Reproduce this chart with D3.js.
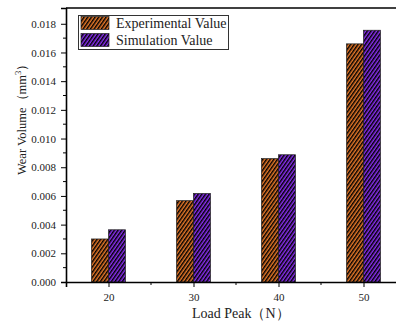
<!DOCTYPE html>
<html>
<head>
<meta charset="utf-8">
<script src="https://cdn.jsdelivr.net/npm/d3@7"></script>
<style>
  body { margin: 0; background: #fff; }
  svg { display: block; font-family: "Liberation Serif", "Times New Roman", serif; }
</style>
</head>
<body>
<div id="chart"></div>
<script>
// data
const loads = [20, 30, 40, 50];
const experimental = [0.0030, 0.00567, 0.0086, 0.0166];
const simulation = [0.00364, 0.00617, 0.00887, 0.01755];
const seriesNames = ["Experimental Value", "Simulation Value"];
const xTicks = [20, 30, 40, 50];
const yTicks = [0, 0.002, 0.004, 0.006, 0.008, 0.010, 0.012, 0.014, 0.016, 0.018];

const width = 396, height = 325;
const colors = ["#e8792a", "#8a2ff0"];

const svg = d3.select("#chart").append("svg")
    .attr("width", width)
    .attr("height", height);

// hatch patterns
const defs = svg.append("defs");
colors.forEach((c, i) => {
    const p = defs.append("pattern")
        .attr("id", "hatch" + i)
        .attr("patternUnits", "userSpaceOnUse")
        .attr("width", 3)
        .attr("height", 10)
        .attr("patternTransform", "rotate(35)");
    p.append("rect").attr("width", 3).attr("height", 10).attr("fill", c);
    p.append("line")
        .attr("x1", 0.75).attr("x2", 0.75)
        .attr("y1", 0).attr("y2", 10)
        .attr("stroke", "#000")
        .attr("stroke-width", 1.5);
});

// scales, right end runs past the window like the source
const x = d3.scaleLinear().domain([15, 55]).range([66, 406]);
const y = d3.scaleLinear().domain([0, 0.0191]).range([282, 8]);

const barW = 2; // in load units

// bars
const g = svg.append("g");
loads.forEach((load, i) => {
    [experimental[i], simulation[i]].forEach((v, s) => {
        const x0 = s === 0 ? load - barW : load;
        g.append("rect")
            .attr("x", x(x0))
            .attr("y", y(v))
            .attr("width", x(x0 + barW) - x(x0))
            .attr("height", y(0) - y(v))
            .attr("fill", "url(#hatch" + s + ")")
            .attr("stroke", "#222")
            .attr("stroke-width", 0.7);
    });
});

// y axis
const yAxis = svg.append("g")
    .attr("transform", "translate(66,0)")
    .call(d3.axisLeft(y).tickValues(yTicks).tickFormat(d3.format(".3f")).tickSize(5).tickPadding(5));
yAxis.append("g").selectAll("line")
    .data(d3.range(0.001, 0.019, 0.002))
    .enter().append("line")
    .attr("x1", -3).attr("x2", 0)
    .attr("y1", d => y(d)).attr("y2", d => y(d))
    .attr("stroke", "#000");

// x axis
const xAxis = svg.append("g")
    .attr("transform", "translate(0,282)")
    .call(d3.axisBottom(x).tickValues(xTicks).tickSize(5).tickPadding(6));
xAxis.append("g").selectAll("line")
    .data([25, 35, 45])
    .enter().append("line")
    .attr("x1", d => x(d)).attr("x2", d => x(d))
    .attr("y1", 0).attr("y2", 3)
    .attr("stroke", "#000");

[yAxis, xAxis].forEach(a => {
    a.select(".domain").attr("stroke-width", 1.6);
    a.selectAll(".tick line").attr("stroke-width", 1);
    a.selectAll("text")
        .attr("font-family", "Liberation Serif, Times New Roman, serif")
        .attr("font-size", 11)
        .attr("fill", "#222");
});

// top frame line
svg.append("line")
    .attr("x1", x(15)).attr("x2", x(55))
    .attr("y1", y(0.0191)).attr("y2", y(0.0191))
    .attr("stroke", "#000").attr("stroke-width", 1.6);

// axis titles
svg.append("text")
    .attr("x", 192).attr("y", 318)
    .attr("font-size", 14)
    .attr("fill", "#222")
    .text("Load Peak（N）");

svg.append("text")
    .attr("transform", "translate(26,175) rotate(-90)")
    .attr("font-size", 12.5)
    .attr("fill", "#222")
    .html("Wear Volume（mm<tspan dy='-5' font-size='8.5'>3</tspan><tspan dy='5'>）</tspan>");

// legend
const legend = svg.append("g");
legend.append("rect")
    .attr("x", 78.5).attr("y", 15.5)
    .attr("width", 150).attr("height", 34)
    .attr("fill", "#fff")
    .attr("stroke", "#333");
seriesNames.forEach((name, i) => {
    legend.append("rect")
        .attr("x", 81).attr("y", 16.5 + i * 17)
        .attr("width", 28).attr("height", 13)
        .attr("fill", "url(#hatch" + i + ")")
        .attr("stroke", "#222").attr("stroke-width", 0.7);
    legend.append("text")
        .attr("x", 116).attr("y", 28 + i * 17)
        .attr("font-size", 14)
        .attr("fill", "#222")
        .text(name);
});
</script>
</body>
</html>
